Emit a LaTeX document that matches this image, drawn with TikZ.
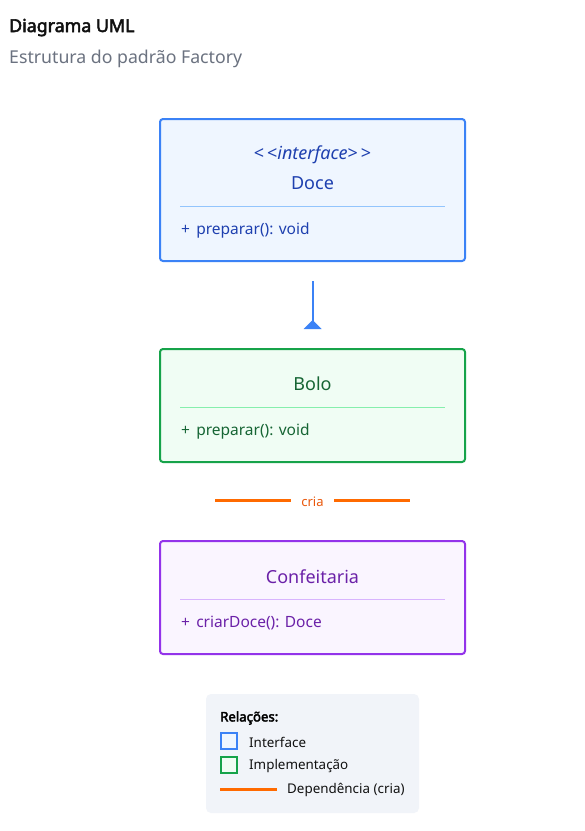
\documentclass[tikz,border=0pt]{standalone}
\usepackage{fontspec}
\setmainfont{Noto Sans}
\newfontfamily\boldfam{Noto Sans}[FakeBold=3]
\usetikzlibrary{arrows.meta}
\definecolor{ibord}{HTML}{3B82F6}
\definecolor{ifill}{HTML}{EFF6FF}
\definecolor{itext}{HTML}{1E40AF}
\definecolor{idiv}{HTML}{93C5FD}
\definecolor{gbord}{HTML}{16A34A}
\definecolor{gfill}{HTML}{F0FDF4}
\definecolor{gtext}{HTML}{166534}
\definecolor{gdiv}{HTML}{86EFAC}
\definecolor{pbord}{HTML}{9333EA}
\definecolor{pfill}{HTML}{FAF5FF}
\definecolor{ptext}{HTML}{6B21A8}
\definecolor{pdiv}{HTML}{D8B4FE}
\definecolor{orng}{HTML}{FF6A00}
\definecolor{orngtext}{HTML}{EA580C}
\definecolor{legbg}{HTML}{F1F4F9}
\definecolor{subgray}{HTML}{6B7280}
\definecolor{titleblack}{HTML}{111111}
\tikzset{
  classbox/.style={draw, line width=2pt, rounded corners=3pt, minimum width=305pt, inner sep=0pt},
  ctitle/.style={font=\fontsize{18}{20}\selectfont, anchor=center, inner sep=0pt},
  cmeth/.style={font=\fontsize{15.5}{18}\selectfont, anchor=base west, inner sep=0pt},
  legtext/.style={font=\fontsize{13.4}{16}\selectfont, anchor=west, inner sep=0pt, text=titleblack},
  legsq/.style={draw, line width=2pt, minimum width=16pt, minimum height=16pt, inner sep=0pt},
}
\begin{document}
\begin{tikzpicture}[x=1pt,y=-1pt]
\useasboundingbox[fill=white] (0,0) rectangle (585,831);
% header
\node[anchor=base west, inner sep=0pt, font=\fontsize{17.8}{20}\selectfont\boldfam, text=titleblack] (title) at (9,32) {Diagrama UML};
\node[anchor=base west, inner sep=0pt, font=\fontsize{17.7}{20}\selectfont, text=subgray] (subtitle) at (9,63) {Estrutura do padrão Factory};
% Doce
\node[classbox, draw=ibord, fill=ifill, minimum height=142pt] (doce) at (312.5,190) {};
\node[ctitle, text=itext] (doceSt) at (312.5,155) {<\,<\textit{interface}>\,>};
\node[ctitle, text=itext] (doceT) at (312.5,183) {Doce};
\draw[idiv, line width=1pt] (180,206) -- (445,206);
\node[cmeth, text=itext] (doceM) at (181,234) {+\hspace{0.4em}preparar(): void};
% realization arrow
\coordinate (r1) at (312.7,281);
\coordinate (r2) at (312.7,321);
\draw[ibord, line width=2pt] (r1) -- (r2);
\fill[ibord] (303.7,329) -- (312.7,320) -- (321.7,329) -- cycle;
% Bolo
\node[classbox, draw=gbord, fill=gfill, minimum height=113pt] (bolo) at (312.5,405.5) {};
\node[ctitle, text=gtext] (boloT) at (312.5,384) {Bolo};
\draw[gdiv, line width=1pt] (180,407) -- (445,407);
\node[cmeth, text=gtext] (boloM) at (181,435) {+\hspace{0.4em}preparar(): void};
% cria
\node[inner sep=0pt, font=\fontsize{13}{16}\selectfont, text=orngtext] (cria) at (312.5,502) {cria};
\coordinate (c1) at (215,500);
\coordinate (c2) at (291,500);
\coordinate (c3) at (334,500);
\coordinate (c4) at (410,500);
\draw[orng, line width=3pt] (c1) -- (c2);
\draw[orng, line width=3pt] (c3) -- (c4);
% Confeitaria
\node[classbox, draw=pbord, fill=pfill, minimum height=113pt] (conf) at (312.5,597.5) {};
\node[ctitle, text=ptext] (confT) at (312.5,577) {Confeitaria};
\draw[pdiv, line width=1pt] (180,599) -- (445,599);
\node[cmeth, text=ptext] (confM) at (181,627) {+\hspace{0.4em}criarDoce(): Doce};
% legend
\fill[legbg, rounded corners=5pt] (206,694) rectangle (419,813);
\node[anchor=west, inner sep=0pt, font=\fontsize{13.2}{16}\selectfont\boldfam, text=black] (legT) at (220,718) {Relações:};
\node[legsq, draw=ibord, fill=ifill] (sq1) at (229,741) {};
\node[legtext] (lg1) at (249,742) {Interface};
\node[legsq, draw=gbord, fill=gfill] (sq2) at (229,765) {};
\node[legtext] (lg2) at (249,766) {Implementação};
\coordinate (l1) at (220,789);
\coordinate (l2) at (277,789);
\draw[orng, line width=3pt] (l1) -- (l2);
\node[legtext] (lg3) at (287,790) {Dependência (cria)};
\end{tikzpicture}
\end{document}
